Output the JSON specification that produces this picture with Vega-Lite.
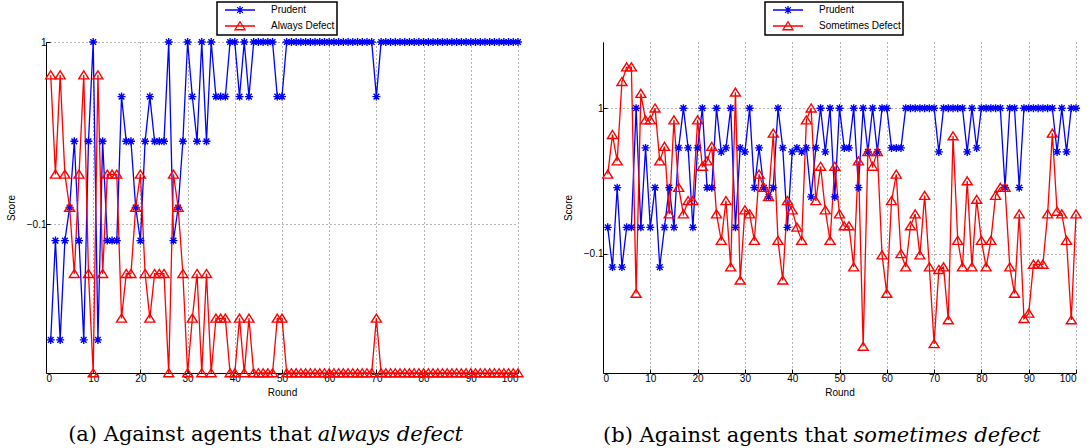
{
  "$schema": "https://vega.github.io/schema/vega-lite/v6.json",
  "background": "white",
  "padding": {"left": 6, "top": 1, "right": 4, "bottom": 4},
  "spacing": 30,
  "config": {
    "view": {"stroke": null},
    "axis": {
      "labelFont": "Liberation Sans", "labelFontSize": 10, "labelColor": "#000",
      "titleFont": "Liberation Sans", "titleFontSize": 10, "titleFontWeight": "normal", "titleColor": "#000",
      "domainColor": "#000", "domainWidth": 1, "tickColor": "#000", "tickSize": -4, "labelPadding": 4,
      "grid": true, "gridColor": "#444", "gridDash": [1, 3], "gridWidth": 0.8
    },
    "legend": {
      "orient": "none", "title": null, "fillColor": "white", "strokeColor": "#000", "strokeWidth": 1.5,
      "padding": 2, "labelFont": "Liberation Sans", "labelFontSize": 10, "labelColor": "#000",
      "symbolSize": 100, "symbolStrokeWidth": 1.3, "symbolOpacity": 1, "symbolOffset": 15, "labelOffset": 25,
      "rowPadding": 2, "columnPadding": 0
    }
  },
  "resolve": {"scale": {"color": "independent", "shape": "independent"}},
  "hconcat": [
    {
      "width": 472, "height": 331,
      "layer": [
        {
          "data": {"values": [
            {"round": 1, "Prudent": -0.8, "Always Defect": 0.8},
            {"round": 2, "Prudent": -0.2, "Always Defect": 0.2},
            {"round": 3, "Prudent": -0.8, "Always Defect": 0.8},
            {"round": 4, "Prudent": -0.2, "Always Defect": 0.2},
            {"round": 5, "Prudent": 0, "Always Defect": 0},
            {"round": 6, "Prudent": 0.4, "Always Defect": -0.4},
            {"round": 7, "Prudent": -0.2, "Always Defect": 0.2},
            {"round": 8, "Prudent": -0.8, "Always Defect": 0.8},
            {"round": 9, "Prudent": 0.4, "Always Defect": -0.4},
            {"round": 10, "Prudent": 1, "Always Defect": -1},
            {"round": 11, "Prudent": -0.8, "Always Defect": 0.8},
            {"round": 12, "Prudent": 0.4, "Always Defect": -0.4},
            {"round": 13, "Prudent": -0.2, "Always Defect": 0.2},
            {"round": 14, "Prudent": -0.2, "Always Defect": 0.2},
            {"round": 15, "Prudent": -0.2, "Always Defect": 0.2},
            {"round": 16, "Prudent": 0.67, "Always Defect": -0.67},
            {"round": 17, "Prudent": 0.4, "Always Defect": -0.4},
            {"round": 18, "Prudent": 0.4, "Always Defect": -0.4},
            {"round": 19, "Prudent": 0, "Always Defect": 0},
            {"round": 20, "Prudent": -0.2, "Always Defect": 0.2},
            {"round": 21, "Prudent": 0.4, "Always Defect": -0.4},
            {"round": 22, "Prudent": 0.67, "Always Defect": -0.67},
            {"round": 23, "Prudent": 0.4, "Always Defect": -0.4},
            {"round": 24, "Prudent": 0.4, "Always Defect": -0.4},
            {"round": 25, "Prudent": 0.4, "Always Defect": -0.4},
            {"round": 26, "Prudent": 1, "Always Defect": -1},
            {"round": 27, "Prudent": -0.2, "Always Defect": 0.2},
            {"round": 28, "Prudent": 0, "Always Defect": 0},
            {"round": 29, "Prudent": 0.4, "Always Defect": -0.4},
            {"round": 30, "Prudent": 1, "Always Defect": -1},
            {"round": 31, "Prudent": 0.67, "Always Defect": -0.67},
            {"round": 32, "Prudent": 0.4, "Always Defect": -0.4},
            {"round": 33, "Prudent": 1, "Always Defect": -1},
            {"round": 34, "Prudent": 0.4, "Always Defect": -0.4},
            {"round": 35, "Prudent": 1, "Always Defect": -1},
            {"round": 36, "Prudent": 0.67, "Always Defect": -0.67},
            {"round": 37, "Prudent": 0.67, "Always Defect": -0.67},
            {"round": 38, "Prudent": 0.67, "Always Defect": -0.67},
            {"round": 39, "Prudent": 1, "Always Defect": -1},
            {"round": 40, "Prudent": 1, "Always Defect": -1},
            {"round": 41, "Prudent": 0.67, "Always Defect": -0.67},
            {"round": 42, "Prudent": 1, "Always Defect": -1},
            {"round": 43, "Prudent": 0.67, "Always Defect": -0.67},
            {"round": 44, "Prudent": 1, "Always Defect": -1},
            {"round": 45, "Prudent": 1, "Always Defect": -1},
            {"round": 46, "Prudent": 1, "Always Defect": -1},
            {"round": 47, "Prudent": 1, "Always Defect": -1},
            {"round": 48, "Prudent": 1, "Always Defect": -1},
            {"round": 49, "Prudent": 0.67, "Always Defect": -0.67},
            {"round": 50, "Prudent": 0.67, "Always Defect": -0.67},
            {"round": 51, "Prudent": 1, "Always Defect": -1},
            {"round": 52, "Prudent": 1, "Always Defect": -1},
            {"round": 53, "Prudent": 1, "Always Defect": -1},
            {"round": 54, "Prudent": 1, "Always Defect": -1},
            {"round": 55, "Prudent": 1, "Always Defect": -1},
            {"round": 56, "Prudent": 1, "Always Defect": -1},
            {"round": 57, "Prudent": 1, "Always Defect": -1},
            {"round": 58, "Prudent": 1, "Always Defect": -1},
            {"round": 59, "Prudent": 1, "Always Defect": -1},
            {"round": 60, "Prudent": 1, "Always Defect": -1},
            {"round": 61, "Prudent": 1, "Always Defect": -1},
            {"round": 62, "Prudent": 1, "Always Defect": -1},
            {"round": 63, "Prudent": 1, "Always Defect": -1},
            {"round": 64, "Prudent": 1, "Always Defect": -1},
            {"round": 65, "Prudent": 1, "Always Defect": -1},
            {"round": 66, "Prudent": 1, "Always Defect": -1},
            {"round": 67, "Prudent": 1, "Always Defect": -1},
            {"round": 68, "Prudent": 1, "Always Defect": -1},
            {"round": 69, "Prudent": 1, "Always Defect": -1},
            {"round": 70, "Prudent": 0.67, "Always Defect": -0.67},
            {"round": 71, "Prudent": 1, "Always Defect": -1},
            {"round": 72, "Prudent": 1, "Always Defect": -1},
            {"round": 73, "Prudent": 1, "Always Defect": -1},
            {"round": 74, "Prudent": 1, "Always Defect": -1},
            {"round": 75, "Prudent": 1, "Always Defect": -1},
            {"round": 76, "Prudent": 1, "Always Defect": -1},
            {"round": 77, "Prudent": 1, "Always Defect": -1},
            {"round": 78, "Prudent": 1, "Always Defect": -1},
            {"round": 79, "Prudent": 1, "Always Defect": -1},
            {"round": 80, "Prudent": 1, "Always Defect": -1},
            {"round": 81, "Prudent": 1, "Always Defect": -1},
            {"round": 82, "Prudent": 1, "Always Defect": -1},
            {"round": 83, "Prudent": 1, "Always Defect": -1},
            {"round": 84, "Prudent": 1, "Always Defect": -1},
            {"round": 85, "Prudent": 1, "Always Defect": -1},
            {"round": 86, "Prudent": 1, "Always Defect": -1},
            {"round": 87, "Prudent": 1, "Always Defect": -1},
            {"round": 88, "Prudent": 1, "Always Defect": -1},
            {"round": 89, "Prudent": 1, "Always Defect": -1},
            {"round": 90, "Prudent": 1, "Always Defect": -1},
            {"round": 91, "Prudent": 1, "Always Defect": -1},
            {"round": 92, "Prudent": 1, "Always Defect": -1},
            {"round": 93, "Prudent": 1, "Always Defect": -1},
            {"round": 94, "Prudent": 1, "Always Defect": -1},
            {"round": 95, "Prudent": 1, "Always Defect": -1},
            {"round": 96, "Prudent": 1, "Always Defect": -1},
            {"round": 97, "Prudent": 1, "Always Defect": -1},
            {"round": 98, "Prudent": 1, "Always Defect": -1},
            {"round": 99, "Prudent": 1, "Always Defect": -1},
            {"round": 100, "Prudent": 1, "Always Defect": -1}
          ]},
          "transform": [{"fold": ["Prudent", "Always Defect"], "as": ["agent", "score"]}],
          "encoding": {
            "x": {"field": "round", "type": "quantitative", "scale": {"domain": [0, 100], "nice": false},
                  "axis": {"values": [0, 10, 20, 30, 40, 50, 60, 70, 80, 90, 100], "title": "Round", "titlePadding": 4}},
            "y": {"field": "score", "type": "quantitative", "scale": {"domain": [-1, 1], "nice": false, "zero": false},
                  "axis": {"values": [-0.1, 1], "format": "~g", "title": "Score", "titlePadding": 10}},
            "color": {"field": "agent", "type": "nominal", "legend": {"legendX": 171, "legendY": -40},
                      "scale": {"domain": ["Prudent", "Always Defect"], "range": ["#0000ff", "#ff0000"]}}
          },
          "layer": [
            {"mark": {"type": "line", "strokeWidth": 1.3}},
            {"transform": [{"filter": "datum.agent === 'Prudent'"}],
             "mark": {"type": "point", "filled": false, "strokeWidth": 1.4, "size": 100, "opacity": 1,
                      "shape": "M-0.8,0H0.8M0,-0.8V0.8M-0.57,-0.57L0.57,0.57M-0.57,0.57L0.57,-0.57"}},
            {"transform": [{"filter": "datum.agent !== 'Prudent'"}],
             "mark": {"type": "point", "filled": false, "strokeWidth": 1.4, "size": 100, "opacity": 1,
                      "shape": "M0,-0.85L1,0.75L-1,0.75Z"}},
            {"mark": {"type": "point", "filled": false, "strokeWidth": 1.3, "size": 100, "opacity": 0},
             "encoding": {
               "shape": {"field": "agent", "type": "nominal", "legend": {"legendX": 171, "legendY": -40},
                         "scale": {"domain": ["Prudent", "Always Defect"],
                                   "range": ["M-3,0H3M-0.8,0H0.8M0,-0.8V0.8M-0.57,-0.57L0.57,0.57M-0.57,0.57L0.57,-0.57", "M-3,0H3M0,-0.85L1,0.75L-1,0.75Z"]}}}}
          ]
        },
        {
          "data": {"values": [{"t": "(a) Against agents that"}]},
          "mark": {"type": "text", "align": "right", "baseline": "alphabetic", "font": "DejaVu Serif", "fontSize": 21, "color": "#000"},
          "encoding": {"x": {"datum": 56.3, "type": "quantitative"}, "y": {"datum": -1.413, "type": "quantitative"}, "text": {"field": "t"}}
        },
        {
          "data": {"values": [{"t": "always defect"}]},
          "mark": {"type": "text", "align": "left", "baseline": "alphabetic", "font": "DejaVu Serif", "fontStyle": "italic", "fontSize": 21, "dx": 6, "color": "#000"},
          "encoding": {"x": {"datum": 56.3, "type": "quantitative"}, "y": {"datum": -1.413, "type": "quantitative"}, "text": {"field": "t"}}
        }
      ]
    },
    {
      "width": 473, "height": 331,
      "layer": [
        {
          "data": {"values": [
            {"round": 1, "Prudent": 0.1, "Sometimes Defect": 0.5},
            {"round": 2, "Prudent": -0.2, "Sometimes Defect": 0.8},
            {"round": 3, "Prudent": 0.4, "Sometimes Defect": 0.6},
            {"round": 4, "Prudent": -0.2, "Sometimes Defect": 1.2},
            {"round": 5, "Prudent": 0.1, "Sometimes Defect": 1.31},
            {"round": 6, "Prudent": 0.1, "Sometimes Defect": 1.31},
            {"round": 7, "Prudent": 1, "Sometimes Defect": -0.4},
            {"round": 8, "Prudent": 0.1, "Sometimes Defect": 1.11},
            {"round": 9, "Prudent": 0.7, "Sometimes Defect": 0.91},
            {"round": 10, "Prudent": 0.1, "Sometimes Defect": 0.91},
            {"round": 11, "Prudent": 0.4, "Sometimes Defect": 1.0},
            {"round": 12, "Prudent": -0.2, "Sometimes Defect": 0.6},
            {"round": 13, "Prudent": 0.1, "Sometimes Defect": 0.71},
            {"round": 14, "Prudent": 0.4, "Sometimes Defect": 0.2},
            {"round": 15, "Prudent": 0.1, "Sometimes Defect": 0.91},
            {"round": 16, "Prudent": 0.7, "Sometimes Defect": 0.4},
            {"round": 17, "Prudent": 1, "Sometimes Defect": 0.2},
            {"round": 18, "Prudent": 0.7, "Sometimes Defect": 0.3},
            {"round": 19, "Prudent": 0.1, "Sometimes Defect": 0.3},
            {"round": 20, "Prudent": 0.7, "Sometimes Defect": 0.91},
            {"round": 21, "Prudent": 1, "Sometimes Defect": 0.56},
            {"round": 22, "Prudent": 0.4, "Sometimes Defect": 0.6},
            {"round": 23, "Prudent": 0.4, "Sometimes Defect": 0.71},
            {"round": 24, "Prudent": 1, "Sometimes Defect": 0.2},
            {"round": 25, "Prudent": 0.67, "Sometimes Defect": 0},
            {"round": 26, "Prudent": 0.7, "Sometimes Defect": 0.3},
            {"round": 27, "Prudent": 1, "Sometimes Defect": -0.2},
            {"round": 28, "Prudent": 0.1, "Sometimes Defect": 1.12},
            {"round": 29, "Prudent": 0.7, "Sometimes Defect": -0.3},
            {"round": 30, "Prudent": 0.67, "Sometimes Defect": 0.23},
            {"round": 31, "Prudent": 1, "Sometimes Defect": 0.2},
            {"round": 32, "Prudent": 0.4, "Sometimes Defect": 0},
            {"round": 33, "Prudent": 0.7, "Sometimes Defect": 0.5},
            {"round": 34, "Prudent": 0.4, "Sometimes Defect": 0.4},
            {"round": 35, "Prudent": 0.33, "Sometimes Defect": 0.33},
            {"round": 36, "Prudent": 0.4, "Sometimes Defect": 0.81},
            {"round": 37, "Prudent": 1, "Sometimes Defect": 0},
            {"round": 38, "Prudent": 0.7, "Sometimes Defect": -0.3},
            {"round": 39, "Prudent": 0.1, "Sometimes Defect": 0.3},
            {"round": 40, "Prudent": 0.67, "Sometimes Defect": 0.23},
            {"round": 41, "Prudent": 0.7, "Sometimes Defect": 0.1},
            {"round": 42, "Prudent": 0.67, "Sometimes Defect": 0},
            {"round": 43, "Prudent": 0.7, "Sometimes Defect": 0.91},
            {"round": 44, "Prudent": 0.33, "Sometimes Defect": 1.0},
            {"round": 45, "Prudent": 0.7, "Sometimes Defect": 0.3},
            {"round": 46, "Prudent": 1, "Sometimes Defect": 0.56},
            {"round": 47, "Prudent": 0.67, "Sometimes Defect": 0.23},
            {"round": 48, "Prudent": 1, "Sometimes Defect": 0},
            {"round": 49, "Prudent": 0.33, "Sometimes Defect": 0.56},
            {"round": 50, "Prudent": 1, "Sometimes Defect": 0.2},
            {"round": 51, "Prudent": 0.7, "Sometimes Defect": 0.11},
            {"round": 52, "Prudent": 0.7, "Sometimes Defect": 0.11},
            {"round": 53, "Prudent": 1, "Sometimes Defect": -0.2},
            {"round": 54, "Prudent": 0.4, "Sometimes Defect": 0.6},
            {"round": 55, "Prudent": 1, "Sometimes Defect": -0.8},
            {"round": 56, "Prudent": 0.67, "Sometimes Defect": 0.67},
            {"round": 57, "Prudent": 1, "Sometimes Defect": 0.56},
            {"round": 58, "Prudent": 0.67, "Sometimes Defect": 0.67},
            {"round": 59, "Prudent": 1, "Sometimes Defect": -0.11},
            {"round": 60, "Prudent": 1, "Sometimes Defect": -0.4},
            {"round": 61, "Prudent": 0.7, "Sometimes Defect": 0.3},
            {"round": 62, "Prudent": 0.7, "Sometimes Defect": 0.5},
            {"round": 63, "Prudent": 0.7, "Sometimes Defect": -0.1},
            {"round": 64, "Prudent": 1, "Sometimes Defect": -0.2},
            {"round": 65, "Prudent": 1, "Sometimes Defect": 0.11},
            {"round": 66, "Prudent": 1, "Sometimes Defect": 0.2},
            {"round": 67, "Prudent": 1, "Sometimes Defect": -0.11},
            {"round": 68, "Prudent": 1, "Sometimes Defect": 0.34},
            {"round": 69, "Prudent": 1, "Sometimes Defect": -0.2},
            {"round": 70, "Prudent": 1, "Sometimes Defect": -0.78},
            {"round": 71, "Prudent": 0.67, "Sometimes Defect": -0.22},
            {"round": 72, "Prudent": 1, "Sometimes Defect": -0.2},
            {"round": 73, "Prudent": 1, "Sometimes Defect": -0.6},
            {"round": 74, "Prudent": 1, "Sometimes Defect": 0.79},
            {"round": 75, "Prudent": 1, "Sometimes Defect": 0},
            {"round": 76, "Prudent": 1, "Sometimes Defect": -0.2},
            {"round": 77, "Prudent": 0.67, "Sometimes Defect": 0.45},
            {"round": 78, "Prudent": 1, "Sometimes Defect": -0.2},
            {"round": 79, "Prudent": 0.7, "Sometimes Defect": 0.31},
            {"round": 80, "Prudent": 1, "Sometimes Defect": 0},
            {"round": 81, "Prudent": 1, "Sometimes Defect": -0.2},
            {"round": 82, "Prudent": 1, "Sometimes Defect": 0},
            {"round": 83, "Prudent": 1, "Sometimes Defect": 0.34},
            {"round": 84, "Prudent": 1, "Sometimes Defect": 0.4},
            {"round": 85, "Prudent": 0.4, "Sometimes Defect": 0.4},
            {"round": 86, "Prudent": 1, "Sometimes Defect": -0.2},
            {"round": 87, "Prudent": 1, "Sometimes Defect": -0.4},
            {"round": 88, "Prudent": 0.4, "Sometimes Defect": 0.2},
            {"round": 89, "Prudent": 1, "Sometimes Defect": -0.59},
            {"round": 90, "Prudent": 1, "Sometimes Defect": -0.55},
            {"round": 91, "Prudent": 1, "Sometimes Defect": -0.18},
            {"round": 92, "Prudent": 1, "Sometimes Defect": -0.18},
            {"round": 93, "Prudent": 1, "Sometimes Defect": -0.18},
            {"round": 94, "Prudent": 1, "Sometimes Defect": 0.2},
            {"round": 95, "Prudent": 1, "Sometimes Defect": 0.81},
            {"round": 96, "Prudent": 0.67, "Sometimes Defect": 0.22},
            {"round": 97, "Prudent": 1, "Sometimes Defect": 0.2},
            {"round": 98, "Prudent": 0.67, "Sometimes Defect": 0},
            {"round": 99, "Prudent": 1, "Sometimes Defect": -0.6},
            {"round": 100, "Prudent": 1, "Sometimes Defect": 0.2}
          ]},
          "transform": [{"fold": ["Prudent", "Sometimes Defect"], "as": ["agent", "score"]}],
          "encoding": {
            "x": {"field": "round", "type": "quantitative", "scale": {"domain": [0, 100], "nice": false},
                  "axis": {"values": [0, 10, 20, 30, 40, 50, 60, 70, 80, 90, 100], "title": "Round", "titlePadding": 4}},
            "y": {"field": "score", "type": "quantitative", "scale": {"domain": [-1, 1.5], "nice": false, "zero": false},
                  "axis": {"values": [-0.1, 1], "format": "~g", "title": "Score", "titlePadding": 10}},
            "color": {"field": "agent", "type": "nominal", "legend": {"legendX": 162, "legendY": -40},
                      "scale": {"domain": ["Prudent", "Sometimes Defect"], "range": ["#0000ff", "#ff0000"]}}
          },
          "layer": [
            {"mark": {"type": "line", "strokeWidth": 1.3}},
            {"transform": [{"filter": "datum.agent === 'Prudent'"}],
             "mark": {"type": "point", "filled": false, "strokeWidth": 1.4, "size": 100, "opacity": 1,
                      "shape": "M-0.8,0H0.8M0,-0.8V0.8M-0.57,-0.57L0.57,0.57M-0.57,0.57L0.57,-0.57"}},
            {"transform": [{"filter": "datum.agent !== 'Prudent'"}],
             "mark": {"type": "point", "filled": false, "strokeWidth": 1.4, "size": 100, "opacity": 1,
                      "shape": "M0,-0.85L1,0.75L-1,0.75Z"}},
            {"mark": {"type": "point", "filled": false, "strokeWidth": 1.3, "size": 100, "opacity": 0},
             "encoding": {
               "shape": {"field": "agent", "type": "nominal", "legend": {"legendX": 162, "legendY": -40},
                         "scale": {"domain": ["Prudent", "Sometimes Defect"],
                                   "range": ["M-3,0H3M-0.8,0H0.8M0,-0.8V0.8M-0.57,-0.57L0.57,0.57M-0.57,0.57L0.57,-0.57", "M-3,0H3M0,-0.85L1,0.75L-1,0.75Z"]}}}}
          ]
        },
        {
          "data": {"values": [{"t": "(b) Against agents that"}]},
          "mark": {"type": "text", "align": "right", "baseline": "alphabetic", "font": "DejaVu Serif", "fontSize": 21, "color": "#000"},
          "encoding": {"x": {"datum": 51.7, "type": "quantitative"}, "y": {"datum": -1.518, "type": "quantitative"}, "text": {"field": "t"}}
        },
        {
          "data": {"values": [{"t": "sometimes defect"}]},
          "mark": {"type": "text", "align": "left", "baseline": "alphabetic", "font": "DejaVu Serif", "fontStyle": "italic", "fontSize": 21, "dx": 6, "color": "#000"},
          "encoding": {"x": {"datum": 51.7, "type": "quantitative"}, "y": {"datum": -1.518, "type": "quantitative"}, "text": {"field": "t"}}
        }
      ]
    }
  ]
}
